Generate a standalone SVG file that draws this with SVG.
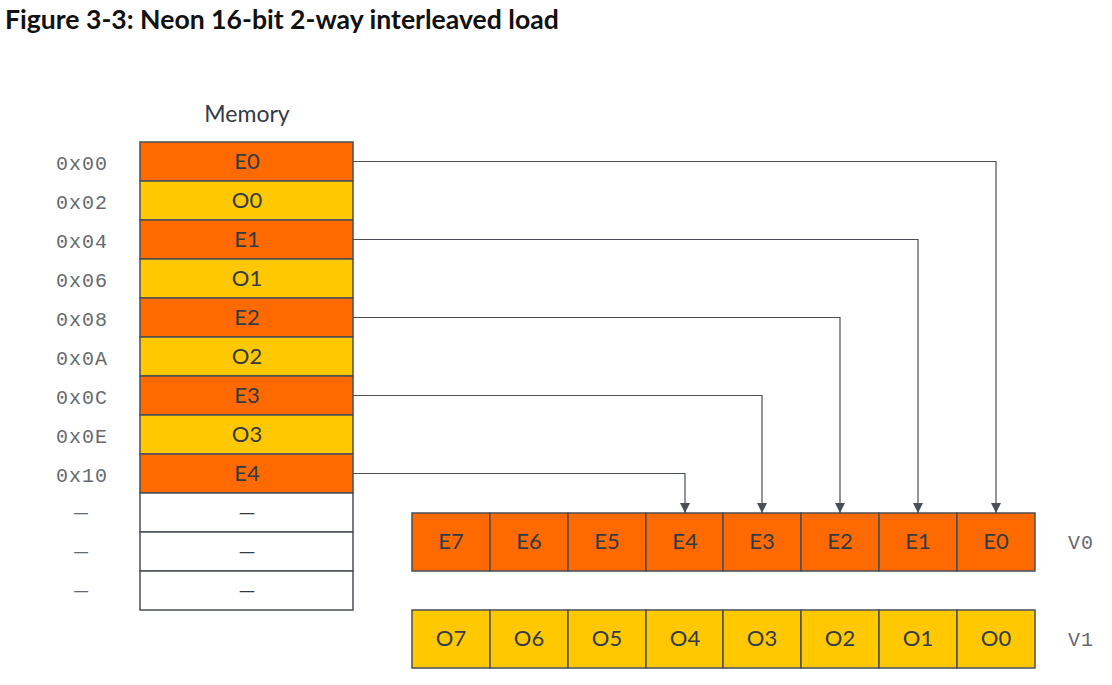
<svg xmlns="http://www.w3.org/2000/svg" width="1112" height="685" viewBox="0 0 1112 685">
<style>
.cell{stroke:#4a4f57;stroke-width:1.5}
.e{fill:#ff6a00}
.o{fill:#ffc800}
.w{fill:#ffffff}
.t{font-family:Lato,"Liberation Sans",sans-serif;font-size:22px;fill:#333b45;text-anchor:middle}
.d{font-family:Lato,"Liberation Sans",sans-serif;font-size:21px;fill:#666a70;text-anchor:middle}
.a{font-family:"Liberation Mono","DejaVu Sans Mono",monospace;font-size:20px;fill:#666a70;text-anchor:end;letter-spacing:1px}
.r{font-family:"Liberation Mono","DejaVu Sans Mono",monospace;font-size:20px;fill:#666a70;letter-spacing:1px}
.c{fill:none;stroke:#4a4f57;stroke-width:1.2}
</style>
<defs>
<marker id="ah" viewBox="0 0 10 10" refX="10" refY="5" markerWidth="10" markerHeight="10" markerUnits="userSpaceOnUse" orient="auto">
<path d="M0,0 L10,5 L0,10 z" fill="#4a4f57"/>
</marker>
</defs>
<rect width="1112" height="685" fill="#ffffff"/>
<text x="5" y="29" font-family="Lato,'Liberation Sans',sans-serif" font-weight="bold" font-size="26.6" fill="#111">Figure 3-3: Neon 16-bit 2-way interleaved load</text>
<text x="247" y="122" font-family="Lato,'Liberation Sans',sans-serif" font-size="23" fill="#333b45" text-anchor="middle">Memory</text>

<g id="memory">
<g id="m0"><rect x="140" y="142" width="213" height="39" class="cell e"/><text x="247" y="169" class="t">E0</text><text x="108" y="170" class="a">0x00</text></g>
<g id="m1"><rect x="140" y="181" width="213" height="39" class="cell o"/><text x="247" y="208" class="t">O0</text><text x="108" y="209" class="a">0x02</text></g>
<g id="m2"><rect x="140" y="220" width="213" height="39" class="cell e"/><text x="247" y="247" class="t">E1</text><text x="108" y="248" class="a">0x04</text></g>
<g id="m3"><rect x="140" y="259" width="213" height="39" class="cell o"/><text x="247" y="286" class="t">O1</text><text x="108" y="287" class="a">0x06</text></g>
<g id="m4"><rect x="140" y="298" width="213" height="39" class="cell e"/><text x="247" y="325" class="t">E2</text><text x="108" y="326" class="a">0x08</text></g>
<g id="m5"><rect x="140" y="337" width="213" height="39" class="cell o"/><text x="247" y="364" class="t">O2</text><text x="108" y="365" class="a">0x0A</text></g>
<g id="m6"><rect x="140" y="376" width="213" height="39" class="cell e"/><text x="247" y="403" class="t">E3</text><text x="108" y="404" class="a">0x0C</text></g>
<g id="m7"><rect x="140" y="415" width="213" height="39" class="cell o"/><text x="247" y="442" class="t">O3</text><text x="108" y="443" class="a">0x0E</text></g>
<g id="m8"><rect x="140" y="454" width="213" height="39" class="cell e"/><text x="247" y="481" class="t">E4</text><text x="108" y="482" class="a">0x10</text></g>
<g id="m9"><rect x="140" y="493" width="213" height="39" class="cell w"/><text x="247" y="520" class="t">—</text><text x="81" y="520" class="d">—</text></g>
<g id="m10"><rect x="140" y="532" width="213" height="39" class="cell w"/><text x="247" y="559" class="t">—</text><text x="81" y="559" class="d">—</text></g>
<g id="m11"><rect x="140" y="571" width="213" height="39" class="cell w"/><text x="247" y="598" class="t">—</text><text x="81" y="598" class="d">—</text></g>
</g>

<g id="v0">
<rect x="412" y="513" width="78" height="58" class="cell e"/><text x="451" y="549" class="t">E7</text>
<rect x="490" y="513" width="78" height="58" class="cell e"/><text x="529" y="549" class="t">E6</text>
<rect x="568" y="513" width="78" height="58" class="cell e"/><text x="607" y="549" class="t">E5</text>
<rect x="646" y="513" width="77" height="58" class="cell e"/><text x="685" y="549" class="t">E4</text>
<rect x="723" y="513" width="78" height="58" class="cell e"/><text x="762" y="549" class="t">E3</text>
<rect x="801" y="513" width="78" height="58" class="cell e"/><text x="840" y="549" class="t">E2</text>
<rect x="879" y="513" width="78" height="58" class="cell e"/><text x="918" y="549" class="t">E1</text>
<rect x="957" y="513" width="78" height="58" class="cell e"/><text x="996" y="549" class="t">E0</text>
<text x="1068" y="549" class="r">V0</text>
</g>

<g id="v1">
<rect x="412" y="610" width="78" height="58" class="cell o"/><text x="451" y="646" class="t">O7</text>
<rect x="490" y="610" width="78" height="58" class="cell o"/><text x="529" y="646" class="t">O6</text>
<rect x="568" y="610" width="78" height="58" class="cell o"/><text x="607" y="646" class="t">O5</text>
<rect x="646" y="610" width="77" height="58" class="cell o"/><text x="685" y="646" class="t">O4</text>
<rect x="723" y="610" width="78" height="58" class="cell o"/><text x="762" y="646" class="t">O3</text>
<rect x="801" y="610" width="78" height="58" class="cell o"/><text x="840" y="646" class="t">O2</text>
<rect x="879" y="610" width="78" height="58" class="cell o"/><text x="918" y="646" class="t">O1</text>
<rect x="957" y="610" width="78" height="58" class="cell o"/><text x="996" y="646" class="t">O0</text>
<text x="1068" y="646" class="r">V1</text>
</g>

<g id="connectors">
<path d="M353,161.5 H996 V513" class="c" marker-end="url(#ah)"/>
<path d="M353,239.5 H918 V513" class="c" marker-end="url(#ah)"/>
<path d="M353,317.5 H840 V513" class="c" marker-end="url(#ah)"/>
<path d="M353,395.5 H762 V513" class="c" marker-end="url(#ah)"/>
<path d="M353,473.5 H685 V513" class="c" marker-end="url(#ah)"/>
</g>
</svg>
